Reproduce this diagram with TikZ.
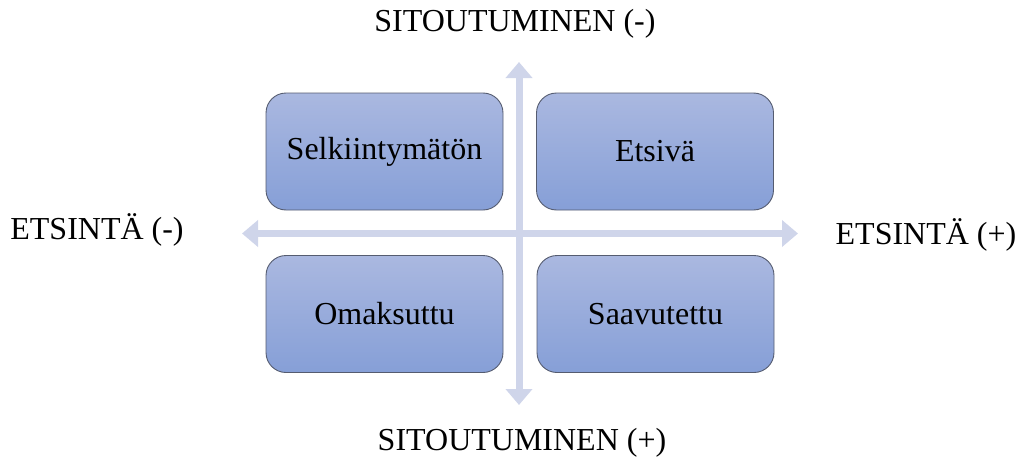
\documentclass[tikz,border=0pt]{standalone}
\usepackage{fontspec}
\setmainfont{Liberation Serif}
\usetikzlibrary{arrows.meta}
\definecolor{axiscol}{RGB}{207,213,234}
\definecolor{boxtop}{RGB}{170,184,224}
\definecolor{boxbot}{RGB}{134,159,215}
\definecolor{boxline}{RGB}{85,92,112}
\begin{document}
\begin{tikzpicture}[x=1pt,y=-1pt,
  quad/.style={draw=boxline, line width=0.9pt, rounded corners=20pt,
    top color=boxtop, bottom color=boxbot, minimum width=237pt, minimum height=117pt,
    font=\fontsize{32}{37}\selectfont, inner sep=0pt},
  axis/.style={draw=axiscol, line width=7pt, {Triangle[width=26pt,length=16pt]}-{Triangle[width=26pt,length=16pt]}},
  lbl/.style={font=\fontsize{32}{37}\selectfont, inner sep=0pt}]
\useasboundingbox (0,0) rectangle (1022,463);
\coordinate (top) at (519,62);
\coordinate (bot) at (519,405);
\coordinate (lft) at (242,233.5);
\coordinate (rgt) at (798,233.5);
\draw[axis] (lft) -- (rgt);
\draw[axis] (bot) -- (top);
\node[quad] (s) at (384.5,151.5) {Selkiintymätön};
\node[quad] (e) at (655,151.5) {Etsivä};
\node[quad] (o) at (384.5,314) {Omaksuttu};
\node[quad] (a) at (655.5,314) {Saavutettu};
\node[lbl] (lt) at (515,24) {SITOUTUMINEN (-)};
\node[lbl] (lb) at (522,443) {SITOUTUMINEN (+)};
\node[lbl] (ll) at (97,230) {ETSINTÄ (-)};
\node[lbl] (lr) at (926,235) {ETSINTÄ (+)};
\end{tikzpicture}
\end{document}
